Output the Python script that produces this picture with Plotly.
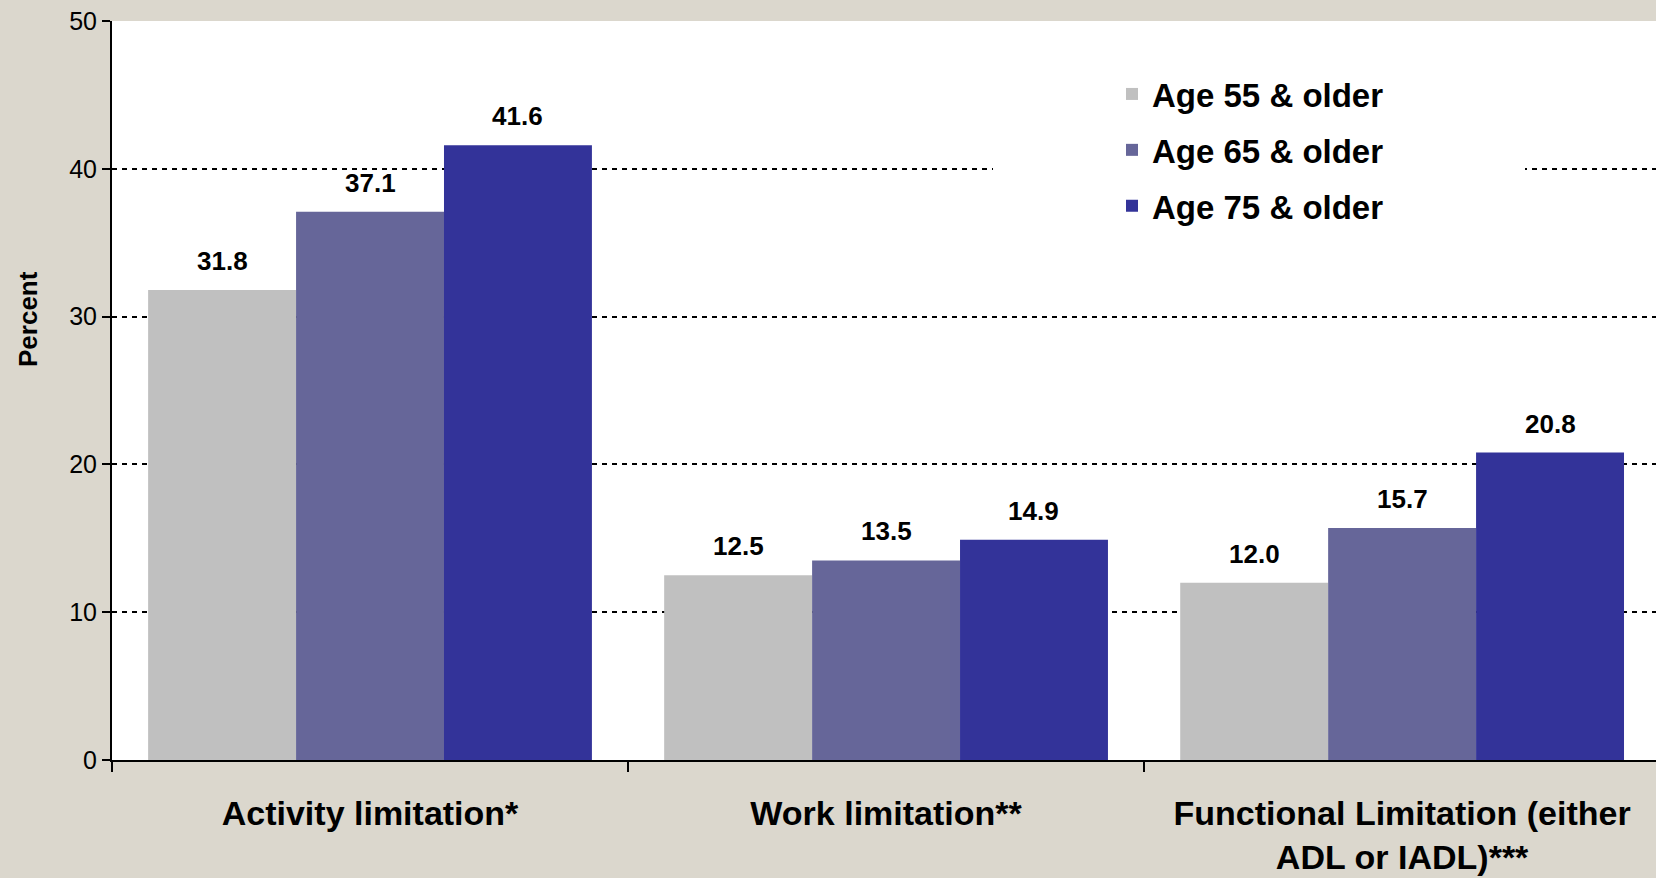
import plotly.graph_objects as go

categories = ["Activity limitation*", "Work limitation**", "Functional Limitation (either<br>ADL or IADL)***"]
series_names = ["Age 55 & older", "Age 65 & older", "Age 75 & older"]
age55 = [31.8, 12.5, 12.0]
age65 = [37.1, 13.5, 15.7]
age75 = [41.6, 14.9, 20.8]
y_ticks = [0, 10, 20, 30, 40, 50]

series_values = [age55, age65, age75]
colors = ["#C0C0C0", "#666699", "#333399"]
FONT = "Arial, Liberation Sans, sans-serif"

W, H = 1656, 878
ML, MR, MT, MB = 112, 0, 21, 118
BARGAP = 0.14
plot_w = W - ML - MR
plot_h = H - MT - MB

fig = go.Figure()
for i, (name, vals) in enumerate(zip(series_names, series_values)):
    fig.add_trace(go.Bar(
        x=list(range(len(categories))), y=vals, name=name,
        marker=dict(color=colors[i], line=dict(width=0)),
        legendgroup=name,
    ))

# data labels above each bar
x_range = [-0.5, 2.492]
cat_px = plot_w / (x_range[1] - x_range[0])
bar_px = cat_px * (1 - BARGAP) / len(series_names)
for i, vals in enumerate(series_values):
    for j, v in enumerate(vals):
        fig.add_annotation(
            x=j, y=v, xref="x", yref="y", text=f"<b>{v:.1f}</b>",
            showarrow=False, yanchor="bottom", xanchor="center",
            xshift=(i - 1) * bar_px, yshift=12,
            font=dict(family=FONT, size=26, color="#000000"),
        )

# y axis title
fig.add_annotation(
    text="<b>Percent</b>", xref="paper", yref="paper",
    x=(28 - ML) / plot_w, y=(760 - 319) / plot_h,
    showarrow=False, textangle=-90, xanchor="center", yanchor="middle",
    font=dict(family=FONT, size=26, color="#000000"),
)

# white legend background panel (covers gridlines)
fig.add_shape(
    type="rect", xref="paper", yref="paper", layer="above",
    x0=(993 - ML) / plot_w, x1=(1525 - ML) / plot_w,
    y0=(760 - 250) / plot_h, y1=(760 - 55) / plot_h,
    fillcolor="#FFFFFF", line=dict(width=0),
)

boundaries = [k - 0.5 for k in range(len(categories) + 1)]

fig.update_layout(
    width=W, height=H,
    margin=dict(l=ML, r=MR, t=MT, b=MB, pad=0, autoexpand=False),
    paper_bgcolor="#DBD7CD",
    plot_bgcolor="#FFFFFF",
    barmode="group", bargap=BARGAP, bargroupgap=0,
    showlegend=True,
    legend=dict(
        x=(1112 - ML) / plot_w, y=(760 - 66) / plot_h,
        xanchor="left", yanchor="top",
        bgcolor="rgba(0,0,0,0)",
        font=dict(family=FONT, size=33, color="#000000", weight="bold"),
        traceorder="grouped", tracegroupgap=10,
    ),
    xaxis=dict(
        type="linear", range=x_range,
        tickvals=list(range(len(categories))),
        ticktext=[f"<b>{c}</b>" for c in categories],
        tickangle=0, ticklabelstandoff=22,
        showgrid=False, zeroline=False,
        showline=True, linecolor="#000000", linewidth=2,
        ticks="", tickfont=dict(family=FONT, size=34, color="#000000"),
        minor=dict(tickvals=boundaries, ticks="outside", ticklen=10,
                   tickwidth=2, tickcolor="#000000", showgrid=False),
    ),
    yaxis=dict(
        range=[0, 50], tickvals=y_ticks,
        showgrid=True, gridcolor="#000000", gridwidth=2, griddash="5px,5px",
        zeroline=False,
        showline=True, linecolor="#000000", linewidth=2,
        ticks="outside", ticklen=8, tickwidth=2, tickcolor="#000000",
        tickfont=dict(family=FONT, size=25, color="#000000"),
    ),
)

fig.write_html("out.html", config={"displayModeBar": False},
               post_script="document.body.style.margin='0';")
